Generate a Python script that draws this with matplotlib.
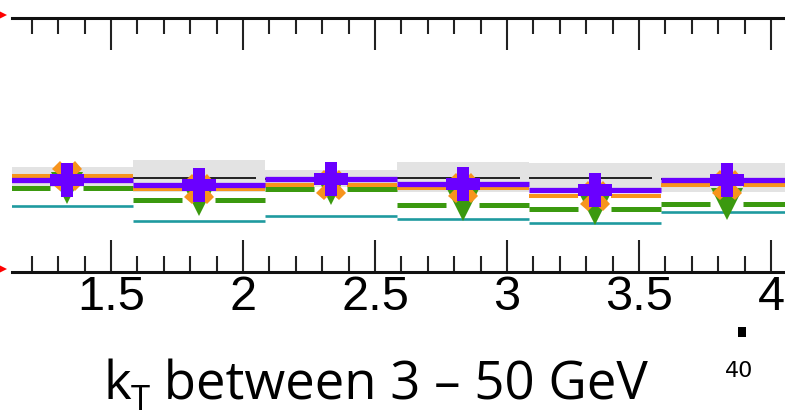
import matplotlib
matplotlib.use("Agg")
import matplotlib.pyplot as plt
from matplotlib.ticker import MultipleLocator
from matplotlib.lines import Line2D
from matplotlib.patches import Rectangle
import numpy as np

# ---- data -------------------------------------------------------------
bin_edges = [1.0833, 1.5833, 2.0833, 2.5833, 3.0833, 3.5833, 4.0833]
tick_values = [1.5, 2.0, 2.5, 3.0, 3.5, 4.0]
tick_labels = ["1.5", "2", "2.5", "3", "3.5", "4"]

band_low = [0.835, 0.815, 0.835, 0.815, 0.815, 0.815]
band_high = [0.913, 0.941, 0.902, 0.933, 0.929, 0.929]
reference = [0.868, 0.872, 0.866, 0.871, 0.871, 0.868]
teal_curve = [0.760, 0.701, 0.720, 0.709, 0.693, 0.738]
green_pts = [0.831, 0.785, 0.827, 0.764, 0.748, 0.766]
orange_pts = [0.878, 0.827, 0.843, 0.831, 0.801, 0.844]
purple_pts = [0.864, 0.844, 0.866, 0.848, 0.823, 0.864]

title_main = "k"
title_sub = "T"
title_rest = " between 3 – 50 GeV"
page_number = "40"

# ---- style --------------------------------------------------------------
C_PURPLE = "#6a00ff"
C_ORANGE = "#f7941d"
C_GREEN = "#3b990f"
C_TEAL = "#1f9a9f"
C_BAND = "#e3e3e3"
C_BLACK = "#222222"

W, H = 785, 419
fig = plt.figure(figsize=(W / 100, H / 100), dpi=100)
ax = fig.add_axes([12 / W, (H - 272) / H, (W - 12) / W, 254 / H])
ax.set_xlim(1.125, 4.053)
ax.set_ylim(0.5, 1.5)

edges = np.array(bin_edges)
left, right = edges[:-1], edges[1:]
centers = 0.5 * (left + right)
gap = 0.0625

# uncertainty band and reference curve
ax.bar(centers, np.array(band_high) - np.array(band_low), bottom=band_low,
       width=right - left, color=C_BAND, linewidth=0, zorder=1)
ax.hlines(reference, left, right - 0.035, color=C_BLACK, lw=1.4, zorder=2)
ax.hlines(teal_curve, left, right, color=C_TEAL, lw=1.9, zorder=2)

# horizontal error bars with a gap around the marker
for vals, col, lw, z in [(green_pts, C_GREEN, 3.6, 3),
                         (orange_pts, C_ORANGE, 2.9, 3.2),
                         (purple_pts, C_PURPLE, 3.8, 3.4)]:
    ax.hlines(vals, left, centers - gap, color=col, lw=lw, zorder=z)
    ax.hlines(vals, centers + gap, right, color=col, lw=lw, zorder=z)

ax.plot(centers, green_pts, "v", ms=22.5, color=C_GREEN, mew=0, zorder=5)
ax.plot(centers, orange_pts, "X", ms=21.6, color=C_ORANGE, mew=0, zorder=6)
ax.plot(centers, purple_pts, "P", ms=23.8, color=C_PURPLE, mew=0, zorder=7)

# axes frame: only top and bottom lines, ticks pointing inwards
for side in ("left", "right"):
    ax.spines[side].set_visible(False)
for side in ("top", "bottom"):
    ax.spines[side].set_linewidth(2.2)
    ax.spines[side].set_color("#111111")
ax.set_xticks(tick_values, tick_labels)
ax.xaxis.set_minor_locator(MultipleLocator(0.1))
ax.xaxis.set_ticks_position("both")
ax.tick_params(axis="x", which="major", direction="in", length=23, width=1.5,
               color="#222222", pad=2.5, labelsize=35)
ax.tick_params(axis="x", which="minor", direction="in", length=11.5, width=1.5,
               color="#222222")
ax.tick_params(axis="y", left=False, right=False, labelleft=False, which="both")
for lab in ax.get_xticklabels():
    lab.set_fontfamily("Liberation Sans")

# slide annotations
for ypix in (15, 269):
    fig.add_artist(Line2D([3 / W], [1 - ypix / H], marker=">", ms=6, color="red",
                          mew=0, transform=fig.transFigure))
fig.add_artist(Rectangle((738 / W, 1 - 337 / H), 8 / W, 10 / H,
                         transform=fig.transFigure, color="black", lw=0))

# slide caption with a lowered subscript
renderer = fig.canvas.get_renderer()
t_main = fig.text(103 / W, 1 - 399 / H, title_main, fontfamily="Open Sans",
                  fontsize=38, va="baseline", ha="left")
bb = t_main.get_window_extent(renderer)
t_sub = fig.text(bb.x1 / W, 1 - 410 / H, title_sub, fontfamily="Open Sans",
                 fontsize=25, va="baseline", ha="left")
bb = t_sub.get_window_extent(renderer)
fig.text(bb.x1 / W, 1 - 399 / H, title_rest, fontfamily="Open Sans",
         fontsize=38, va="baseline", ha="left")

fig.text(739 / W, 1 - 371 / H, page_number,
         fontfamily=["Liberation Sans Narrow", "DejaVu Sans"],
         fontsize=16, va="center", ha="center")

fig.savefig("out.png", dpi=100)
